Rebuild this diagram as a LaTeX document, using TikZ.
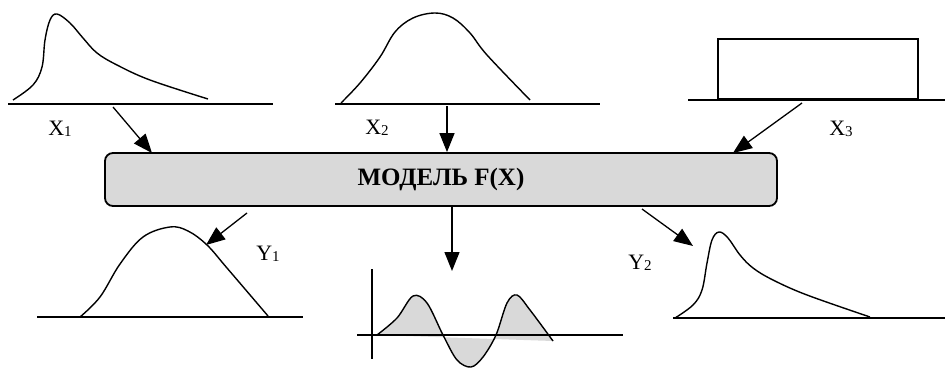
\documentclass[tikz,border=0pt]{standalone}
\usepackage{fontspec}
\setmainfont{Liberation Serif}
\usetikzlibrary{arrows.meta}
\definecolor{boxgray}{HTML}{D9D9D9}
\tikzset{
  curve/.style={line width=1.4pt, line join=round},
  axisline/.style={line width=2pt},
  flow/.style={line width=1.3pt, -{Triangle[length=19pt,width=15pt]}},
  modelbox/.style={draw, line width=1.8pt, fill=boxgray, rounded corners=8pt, minimum width=672pt, minimum height=53pt, inner sep=0pt},
  lbl/.style={inner sep=0pt, font=\fontsize{22}{22}\selectfont}
}
\newcommand{\sub}[1]{\raisebox{-0.5pt}{\fontsize{15}{15}\selectfont #1}}
\begin{document}
\begin{tikzpicture}[x=1pt,y=-1pt]
\useasboundingbox (0,0) rectangle (945,369);

% model box
\node[modelbox] (model) at (441,179.5) {\fontsize{25}{25}\selectfont\bfseries МОДЕЛЬ F(X)};

% ---- top-left X1
\draw[axisline] (8,104) -- (273,104);
\draw[curve] plot[smooth, tension=0.6] coordinates {(13,100) (33,85) (42,67) (45,40) (50,20) (57,14) (70,23) (83,38) (97,53) (117,65) (150,80) (208,99)};
\node[lbl] (x1) at (60,129) {X\sub{1}};
\coordinate (x1s) at (113,107);
\coordinate (x1e) at (152,153);
\draw[flow] (x1s) -- (x1e);

% ---- top-middle X2
\draw[axisline] (335,104) -- (600,104);
\draw[curve] plot[smooth, tension=0.6] coordinates {(341,103) (360,83) (380,57) (395,32) (413,18) (435,13) (453,18) (470,33) (487,55) (530,100)};
\node[lbl] (x2) at (377,128) {X\sub{2}};
\coordinate (x2s) at (447,106);
\draw[flow] (x2s) -- (x2s |- model.north);

% ---- top-right X3
\draw[axisline] (688,100) -- (945,100);
\draw[line width=1.6pt] (718,39) rectangle (918,99);
\node[lbl] (x3) at (841,129) {X\sub{3}};
\coordinate (x3s) at (802,103);
\coordinate (x3e) at (733,153);
\draw[flow] (x3s) -- (x3e);

% ---- bottom-left Y1
\draw[axisline] (37,317) -- (303,317);
\draw[curve] plot[smooth, tension=0.6] coordinates {(80,317) (100,297) (120,264) (143,237) (170,227) (188,231) (207,245) (227,268) (268,316)};
\node[lbl] (y1) at (268,254) {Y\sub{1}};
\coordinate (y1s) at (247,213);
\coordinate (y1e) at (206,245);
\draw[flow] (y1s) -- (y1e);

% ---- bottom-middle wave
\fill[boxgray] plot[smooth, tension=0.55] coordinates {(377,335) (397,318) (413,296) (427,303) (443,335) (457,360) (471,367) (483,357) (496,335) (507,303) (517,295) (530,310) (553,341)} -- cycle;
\draw[axisline] (357,335) -- (623,335);
\draw[axisline] (372,269) -- (372,359);
\draw[curve] plot[smooth, tension=0.55] coordinates {(377,335) (397,318) (413,296) (427,303) (443,335) (457,360) (471,367) (483,357) (496,335) (507,303) (517,295) (530,310) (553,341)};
\coordinate (y0e) at (452,271);
\draw[flow] (y0e |- model.south) -- (y0e);

% ---- bottom-right Y2
\draw[axisline] (673,318) -- (945,318);
\draw[curve] plot[smooth, tension=0.6] coordinates {(675,318) (693,305) (702,290) (707,263) (712,240) (719,232) (728,238) (740,255) (753,268) (773,280) (807,295) (870,317)};
\node[lbl] (y2) at (640,263) {Y\sub{2}};
\coordinate (y2s) at (642,209);
\coordinate (y2e) at (693,246);
\draw[flow] (y2s) -- (y2e);
\end{tikzpicture}
\end{document}
